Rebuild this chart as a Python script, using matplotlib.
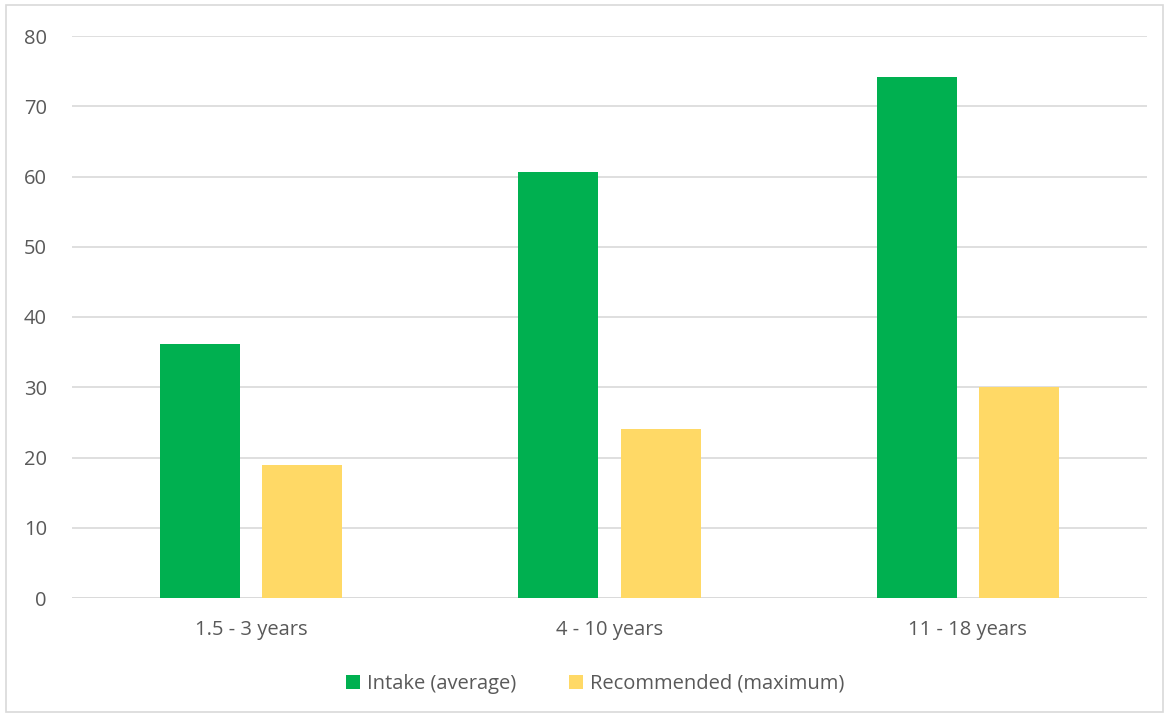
import matplotlib.pyplot as plt
import numpy as np
from matplotlib.patches import Rectangle

categories = ["1.5 - 3 years", "4 - 10 years", "11 - 18 years"]
intake_avg = [36.1, 60.7, 74.2]
recommended_max = [19, 24, 30]

GREEN = "#00B050"
YELLOW = "#FFD966"
TXT = "#595959"
GRID = "#D9D9D9"

plt.rcParams["font.family"] = ["Open Sans", "DejaVu Sans"]

fig = plt.figure(figsize=(11.68, 7.16), dpi=100)
# chart area frame
fig.patches.append(Rectangle((6 / 1168, 4 / 716), 1157 / 1168, 707 / 716,
                             transform=fig.transFigure, fill=False,
                             edgecolor="#D9D9D9", lw=1.2))

ax = fig.add_axes([72 / 1168, 1 - 598 / 716, 1075 / 1168, 562 / 716])
x = np.arange(len(categories))
w = 0.2235
off = 0.1425
ax.bar(x - off, intake_avg, w, color=GREEN, label="Intake (average)", zorder=3)
ax.bar(x + off, recommended_max, w, color=YELLOW, label="Recommended (maximum)", zorder=3)

ax.set_xlim(-0.5, 2.5)
ax.set_ylim(0, 80)
ax.set_yticks(range(0, 81, 10))
ax.grid(axis="y", color=GRID, lw=1.2, zorder=0)
for s in ax.spines.values():
    s.set_visible(False)
ax.axhline(0, color=GRID, lw=1.2, zorder=2)
ax.set_xticks(x)
ax.set_xticklabels(categories)
ax.tick_params(axis="both", length=0, colors=TXT, labelsize=14.5)
ax.tick_params(axis="x", pad=16)
ax.tick_params(axis="y", pad=18)

leg = fig.legend(loc="center", bbox_to_anchor=(595 / 1168, 1 - 684 / 716), ncol=2,
                 frameon=False, fontsize=14.5, handlelength=0.7, handleheight=0.7,
                 handletextpad=0.35, columnspacing=2.6)
for t in leg.get_texts():
    t.set_color(TXT)

fig.savefig("out.png", dpi=100)
